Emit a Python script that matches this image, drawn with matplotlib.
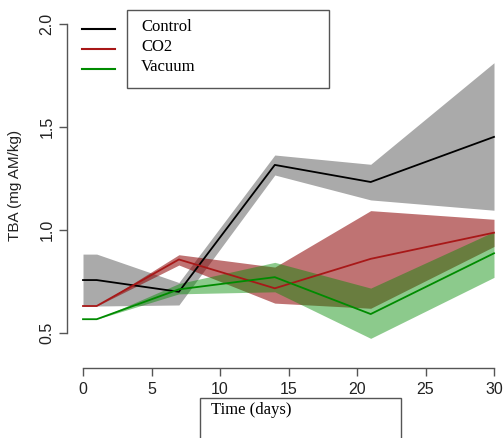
import matplotlib
matplotlib.use('Agg')
import matplotlib.pyplot as plt
from matplotlib.patches import Rectangle
from matplotlib.lines import Line2D

# storage time (days) and TBA (mg AM/kg), mean with lower/upper band
days = [0, 1, 7, 14, 21, 30]

control = [0.757, 0.757, 0.700, 1.316, 1.233, 1.452]
control_lo = [0.631, 0.631, 0.636, 1.267, 1.146, 1.096]
control_hi = [0.883, 0.883, 0.745, 1.364, 1.319, 1.812]

co2 = [0.631, 0.631, 0.857, 0.717, 0.860, 0.987]
co2_lo = [0.631, 0.631, 0.830, 0.645, 0.620, 0.920]
co2_hi = [0.631, 0.631, 0.880, 0.820, 1.094, 1.052]

vacuum = [0.567, 0.567, 0.712, 0.771, 0.592, 0.887]
vacuum_lo = [0.567, 0.567, 0.690, 0.700, 0.474, 0.770]
vacuum_hi = [0.567, 0.567, 0.740, 0.843, 0.718, 0.992]

labels = ["Control", "CO2", "Vacuum"]
xticks = [0, 5, 10, 15, 20, 25, 30]
yticks = [0.5, 1.0, 1.5, 2.0]

c_grey = '#AAAAAA'
c_red = '#A81818'
c_green = '#008B00'

W, H = 503, 438
fig = plt.figure(figsize=(W / 100, H / 100), dpi=100)
# axes box in pixels: x 67..503, y 10..368
ax = fig.add_axes([67 / W, (H - 368) / H, (W - 67) / W, (368 - 10) / H])
ax.set_xlim(-16 / 13.7, 30 + 9 / 13.7)
ax.set_ylim(0.5 - 35 / 206, 2.0 + 14 / 206)

ax.fill_between(days, control_lo, control_hi, color=c_grey, lw=0)
ax.plot(days, control, color='black', lw=1.3)
ax.fill_between(days, co2_lo, co2_hi, color='#8B0000', alpha=0.55, lw=0)
ax.plot(days, co2, color=c_red, lw=1.3)
ax.fill_between(days, vacuum_lo, vacuum_hi, color=c_green, alpha=0.45, lw=0)
ax.plot(days, vacuum, color=c_green, lw=1.3)

for s in ['top', 'right']:
    ax.spines[s].set_visible(False)
ax.spines['left'].set_bounds(0.5, 2.0)
ax.spines['bottom'].set_bounds(0, 30)
for s in ['left', 'bottom']:
    ax.spines[s].set_color('#555555')
    ax.spines[s].set_linewidth(1.0)

ax.set_xticks(xticks)
ax.set_yticks(yticks)
ax.set_xticklabels([str(x) for x in xticks])
ax.set_yticklabels(["%.1f" % y for y in yticks])
ax.tick_params(direction='out', length=6, width=1.0, color='#555555',
               labelsize=11.5, labelcolor='#222222')
ax.tick_params(axis='x', pad=4)
ax.tick_params(axis='y', pad=3, labelrotation=90)
for t in ax.get_yticklabels():
    t.set_va('center')
    t.set_family('Liberation Sans')
for t in ax.get_xticklabels():
    t.set_family('Liberation Sans')

fig.text(15 / W, 1 - 185 / H, "TBA (mg AM/kg)", rotation=90, ha='center', va='center',
         fontsize=11, family='Liberation Sans', color='#222222')

# legend drawn R-style: lines outside the box, text inside
fig.patches.append(Rectangle((127 / W, 1 - 88 / H), (329 - 127) / W, (88 - 10) / H,
                             transform=fig.transFigure, fill=False, ec='#555555', lw=1.0))
for i, (lab, col) in enumerate(zip(labels, ['black', c_red, c_green])):
    yy = 1 - (28.5 + 20 * i) / H
    fig.lines.append(Line2D([82 / W, 115 / W], [yy, yy], transform=fig.transFigure,
                            color=col, lw=1.5))
    fig.text(141 / W, 1 - (27 + 20 * i) / H, lab, ha='left', va='center',
             fontsize=12, family='Liberation Serif')

# x label in its own box
fig.patches.append(Rectangle((200 / W, -0.05), (401 - 200) / W, (1 - 398 / H) + 0.05,
                             transform=fig.transFigure, fill=False, ec='#555555', lw=1.0))
fig.text(211 / W, 1 - 410 / H, "Time (days)", ha='left', va='center',
         fontsize=12, family='Liberation Serif')

plt.savefig("out.png", dpi=100)
